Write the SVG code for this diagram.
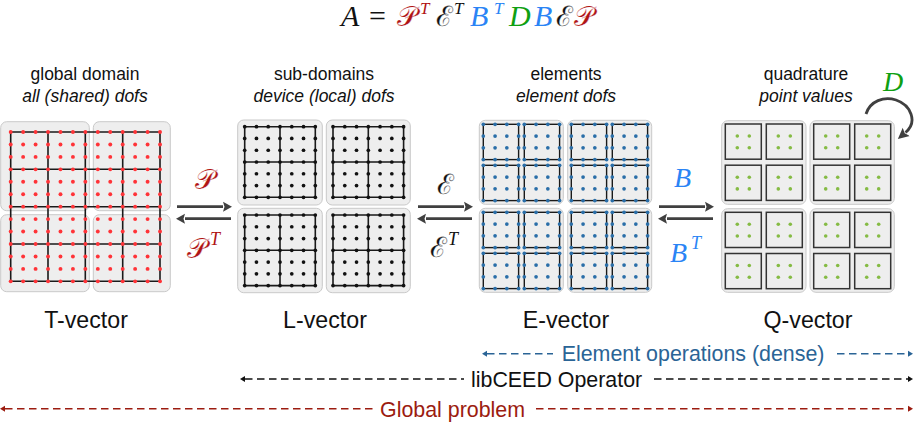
<svg xmlns="http://www.w3.org/2000/svg" width="916" height="422" viewBox="0 0 916 422">
<style>
text{font-family:"Liberation Sans",Arial,sans-serif;fill:#111}
.lab{font-size:17.5px;text-anchor:middle}
.it{font-style:italic}
.vec{font-size:23.2px;text-anchor:middle}
.op{font-size:21.4px}
.m{font-family:"Liberation Serif","DejaVu Serif",serif;font-style:italic}
.s{font-family:"Liberation Serif","DejaVu Serif",serif;font-style:normal;stroke:#fff;stroke-width:.2}
.panel{fill:#eee;stroke:#c9c9c9;stroke-width:1}
.grid{fill:none;stroke:#1a1a1a;stroke-width:1.6}
.el{fill:none;stroke:#1a1a1a;stroke-width:1.4}
.qel{fill:none;stroke:#333;stroke-width:1.5}
.thick{fill:none;stroke:#404040;stroke-width:2.8}
.dash{fill:none;stroke-width:1.4;stroke-dasharray:7.5 4.5}
.red{fill:#b01414}.blu{fill:#2a84f5}.grn{fill:#0fa012}
</style>
<defs>
<marker id="ah" markerUnits="userSpaceOnUse" markerWidth="10" markerHeight="12" refX="0" refY="6" orient="auto-start-reverse"><path d="M0 1L9 6L0 11L1.500 6Z" fill="#404040"/></marker>
<marker id="ac" markerUnits="userSpaceOnUse" markerWidth="12" markerHeight="14" refX="1" refY="7" orient="auto"><path d="M0 1.500L11 7L0 12.500L2 7Z" fill="#404040"/></marker>
<marker id="ab" markerUnits="userSpaceOnUse" markerWidth="7" markerHeight="8" refX="0" refY="4" orient="auto-start-reverse"><path d="M0 1L5 4L0 7Z" fill="#2a6496"/></marker>
<marker id="ak" markerUnits="userSpaceOnUse" markerWidth="7" markerHeight="8" refX="0" refY="4" orient="auto-start-reverse"><path d="M0 1L5 4L0 7Z" fill="#111"/></marker>
<marker id="ar" markerUnits="userSpaceOnUse" markerWidth="7" markerHeight="8" refX="0" refY="4" orient="auto-start-reverse"><path d="M0 1L5 4L0 7Z" fill="#9c1c10"/></marker>
<g id="t13"><circle r="1.95"/><circle cx="12.44" r="1.95"/><circle cx="24.89" r="1.95"/><circle cx="37.33" r="1.95"/><circle cx="49.78" r="1.95"/><circle cx="62.22" r="1.95"/><circle cx="74.67" r="1.95"/><circle cx="87.11" r="1.95"/><circle cx="99.56" r="1.95"/><circle cx="112" r="1.95"/><circle cx="124.44" r="1.95"/><circle cx="136.89" r="1.95"/><circle cx="149.33" r="1.95"/></g>
<g id="l7"><circle r="1.85"/><circle cx="11.77" r="1.85"/><circle cx="23.53" r="1.85"/><circle cx="35.3" r="1.85"/><circle cx="47.07" r="1.85"/><circle cx="58.83" r="1.85"/><circle cx="70.6" r="1.85"/></g>
<g id="ldots"><use href="#l7"/><use href="#l7" y="11.77"/><use href="#l7" y="23.53"/><use href="#l7" y="35.3"/><use href="#l7" y="47.07"/><use href="#l7" y="58.83"/><use href="#l7" y="70.6"/></g>
<g id="lsub"><path class="grid" d="M0 0H70.6V70.6H0ZM35.3 0V70.6M0 35.3H70.6"/><use href="#ldots"/></g>
<g id="e4"><circle r="1.85"/><circle cx="11.77" r="1.85"/><circle cx="23.53" r="1.85"/><circle cx="35.3" r="1.85"/></g>
<g id="eel"><rect class="el" width="35.3" height="35.3"/><use href="#e4"/><use href="#e4" y="11.77"/><use href="#e4" y="23.53"/><use href="#e4" y="35.3"/></g>
<g id="esub"><use href="#eel"/><use href="#eel" x="41"/><use href="#eel" y="41"/><use href="#eel" x="41" y="41"/></g>
<g id="qel"><rect class="qel" width="36" height="35.2"/><circle cx="12" cy="12" r="1.8"/><circle cx="24" cy="12" r="1.8"/><circle cx="12" cy="23.7" r="1.8"/><circle cx="24" cy="23.7" r="1.8"/></g>
<g id="qsub"><use href="#qel"/><use href="#qel" x="41"/><use href="#qel" y="41.2"/><use href="#qel" x="41" y="41.2"/></g>
</defs>
<rect width="916" height="422" fill="#fff"/>
<g id="formula">
<text x="341" y="26" class="m" font-size="30">A</text>
<text x="369" y="26" font-size="30" style="font-family:'Liberation Serif',serif">=</text>
<text x="397" y="26" class="s red" font-size="28">𝒫</text>
<text x="420" y="14" class="m red" font-size="17">T</text>
<text x="436" y="26" class="s" font-size="28">ℰ</text>
<text x="454" y="14" class="m" font-size="17">T</text>
<text x="470" y="26" class="m blu" font-size="30">B</text>
<text x="494" y="14" class="m blu" font-size="17">T</text>
<text x="509" y="26" class="m grn" font-size="30">D</text>
<text x="534" y="26" class="m blu" font-size="30">B</text>
<text x="556" y="26" class="s" font-size="28">ℰ</text>
<text x="574" y="26" class="s red" font-size="28">𝒫</text>
</g>
<g id="t-vector">
<text class="lab" x="85" y="80">global domain</text>
<text class="lab it" x="85" y="102">all (shared) dofs</text>
<rect class="panel" x="0.7" y="121.7" width="88.6" height="89" rx="6"/>
<rect class="panel" x="93.3" y="121.7" width="77" height="89" rx="6"/>
<rect class="panel" x="0.7" y="214.7" width="88.6" height="77" rx="6"/>
<rect class="panel" x="93.3" y="214.7" width="77" height="77" rx="6"/>
<path class="grid" d="M10.7 132H160V281.3H10.7ZM48 132V281.3M85.3 132V281.3M122.7 132V281.3M10.7 169.3H160M10.7 206.7H160M10.7 244H160"/>
<g fill="#ff3338" transform="translate(10.7 132)">
<use href="#t13"/><use href="#t13" y="12.44"/><use href="#t13" y="24.89"/><use href="#t13" y="37.33"/><use href="#t13" y="49.78"/><use href="#t13" y="62.22"/><use href="#t13" y="74.67"/><use href="#t13" y="87.11"/><use href="#t13" y="99.56"/><use href="#t13" y="112"/><use href="#t13" y="124.44"/><use href="#t13" y="136.89"/><use href="#t13" y="149.33"/>
</g>
<text class="vec" x="86" y="328">T-vector</text>
</g>
<g id="l-vector">
<text class="lab" x="324" y="80">sub-domains</text>
<text class="lab it" x="324" y="102">device (local) dofs</text>
<rect class="panel" x="237.7" y="120" width="84.6" height="85" rx="6"/>
<rect class="panel" x="326.3" y="120" width="84" height="85" rx="6"/>
<rect class="panel" x="237.7" y="208.3" width="84.6" height="84.4" rx="6"/>
<rect class="panel" x="326.3" y="208.3" width="84" height="84.4" rx="6"/>
<g fill="#111">
<use href="#lsub" x="244.7" y="126.7"/><use href="#lsub" x="333" y="126.7"/><use href="#lsub" x="244.7" y="215"/><use href="#lsub" x="333" y="215"/>
</g>
<text class="vec" x="325" y="328">L-vector</text>
</g>
<g id="e-vector">
<text class="lab" x="566" y="80">elements</text>
<text class="lab it" x="566" y="102">element dofs</text>
<rect class="panel" x="479.3" y="120.3" width="84" height="84" rx="6"/>
<rect class="panel" x="567.7" y="120.3" width="84" height="84" rx="6"/>
<rect class="panel" x="479.3" y="208.3" width="84" height="84" rx="6"/>
<rect class="panel" x="567.7" y="208.3" width="84" height="84" rx="6"/>
<g fill="#2a6ea8">
<use href="#esub" x="483.3" y="124.3"/><use href="#esub" x="571.3" y="124.3"/><use href="#esub" x="483.3" y="212.3"/><use href="#esub" x="571.3" y="212.3"/>
</g>
<text class="vec" x="566" y="328">E-vector</text>
</g>
<g id="q-vector">
<text class="lab" x="806" y="80">quadrature</text>
<text class="lab it" x="806" y="102">point values</text>
<rect class="panel" x="721.7" y="120.7" width="84.3" height="83.6" rx="6"/>
<rect class="panel" x="810" y="120.7" width="84.3" height="83.6" rx="6"/>
<rect class="panel" x="721.7" y="208.7" width="84.3" height="83.6" rx="6"/>
<rect class="panel" x="810" y="208.7" width="84.3" height="83.6" rx="6"/>
<g fill="#85bb44">
<use href="#qsub" x="725.3" y="124"/><use href="#qsub" x="813.7" y="124"/><use href="#qsub" x="725.3" y="212.3"/><use href="#qsub" x="813.7" y="212.3"/>
</g>
<text class="vec" x="808" y="328">Q-vector</text>
</g>
<g id="connectors">
<path class="thick" d="M177 206.7H223" marker-end="url(#ah)"/>
<path class="thick" d="M231 218.7H185" marker-end="url(#ah)"/>
<path class="thick" d="M418 206.7H464" marker-end="url(#ah)"/>
<path class="thick" d="M472 218.7H426" marker-end="url(#ah)"/>
<path class="thick" d="M659 206.7H705" marker-end="url(#ah)"/>
<path class="thick" d="M713 218.7H667" marker-end="url(#ah)"/>
<path class="thick" d="M866 114C870 101 884 96 896 100C911 105 918 122 905.500 132.500" stroke-width="3" marker-end="url(#ac)"/>
<path class="dash" stroke="#2a6496" d="M487 353.7H553" marker-start="url(#ab)"/>
<path class="dash" stroke="#2a6496" d="M837 353.7H908" marker-end="url(#ab)"/>
<path class="dash" stroke="#111" d="M245 379H464" marker-start="url(#ak)"/>
<path class="dash" stroke="#111" d="M654 379H908" marker-end="url(#ak)"/>
<path class="dash" stroke="#9c1c10" d="M5 408.7H373" marker-start="url(#ar)"/>
<path class="dash" stroke="#9c1c10" d="M536 408.7H908" marker-end="url(#ar)"/>
</g>
<g id="labels">
<text class="s red" x="195" y="189" font-size="28">𝒫</text>
<text class="s red" x="187" y="258" font-size="28">𝒫</text>
<text class="m red" x="210" y="245" font-size="18">T</text>
<text class="s" x="437" y="194" font-size="28">ℰ</text>
<text class="s" x="430" y="257" font-size="28">ℰ</text>
<text class="m" x="448" y="245" font-size="18">T</text>
<text class="m blu" x="674" y="187" font-size="28">B</text>
<text class="m blu" x="670" y="262" font-size="28">B</text>
<text class="m blu" x="691" y="249" font-size="18">T</text>
<text class="m grn" x="883" y="91" font-size="28">D</text>
<text class="op" x="561.7" y="361" style="fill:#2a6496">Element operations (dense)</text>
<text class="op" x="471" y="387" style="fill:#111">libCEED Operator</text>
<text class="op" x="380" y="416.5" style="fill:#9c1c10">Global problem</text>
</g>
</svg>
